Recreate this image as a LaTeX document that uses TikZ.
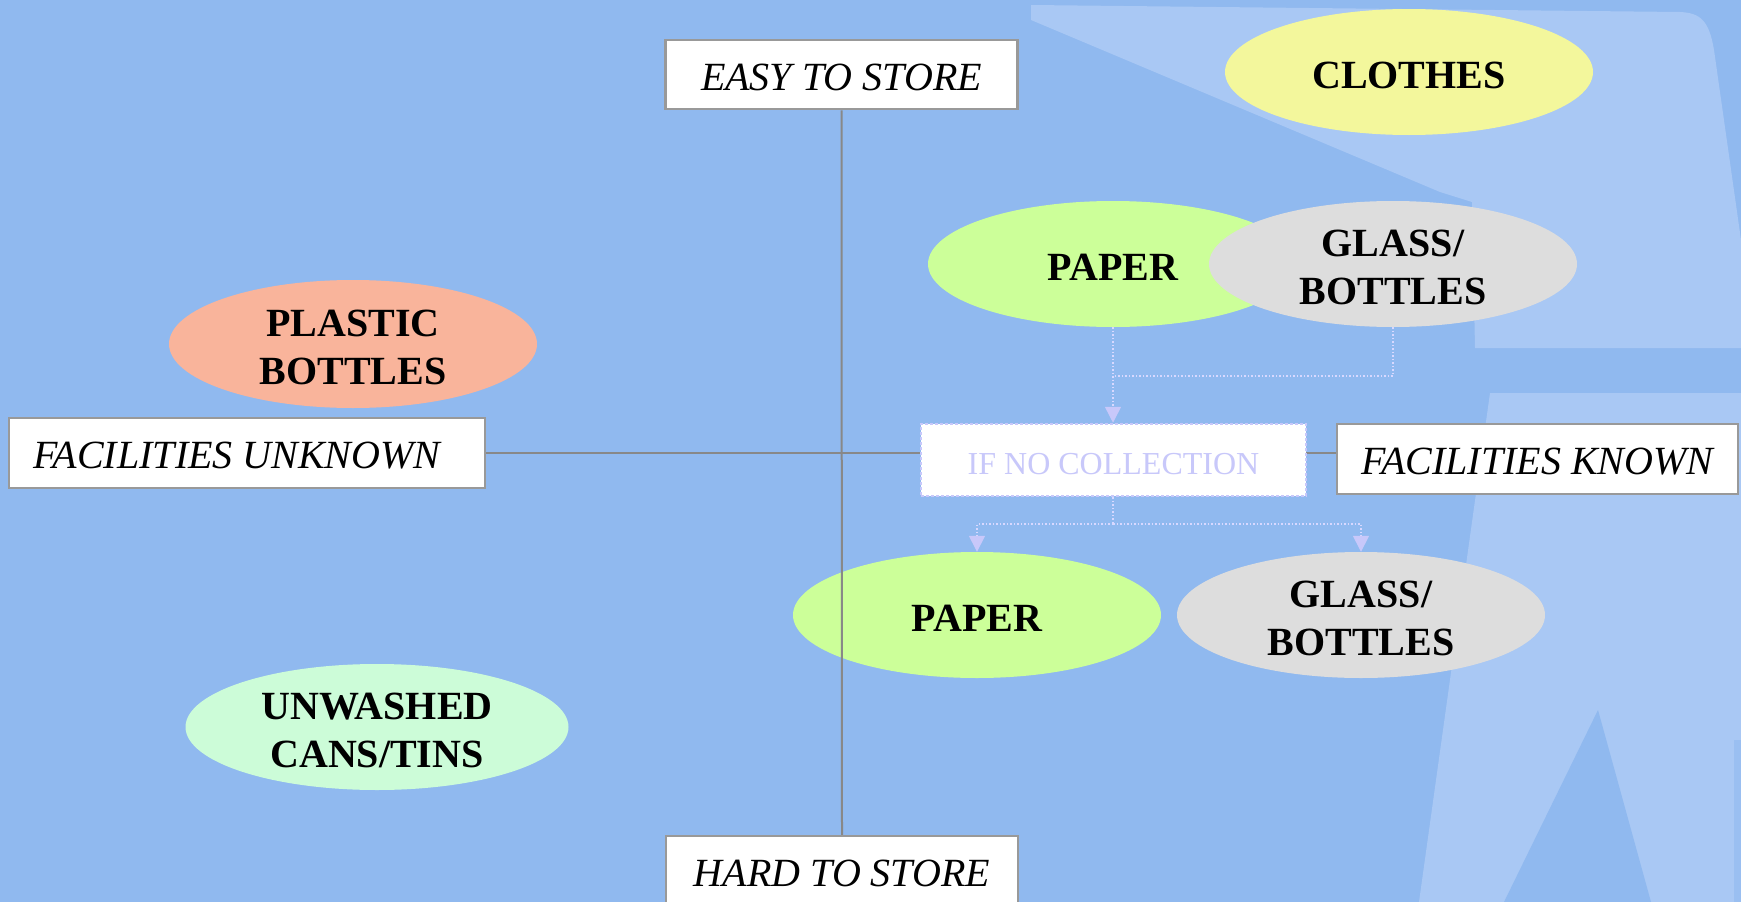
\documentclass[tikz,border=0pt]{standalone}
\usepackage{fontspec}
\setmainfont{Liberation Serif}
\usetikzlibrary{shapes.geometric,arrows.meta}
\definecolor{bgblue}{HTML}{90B9EF}
\definecolor{bglight}{HTML}{A9C8F4}
\definecolor{linegray}{HTML}{888888}
\definecolor{boxgray}{HTML}{999999}
\definecolor{lav}{HTML}{C8C8FA}
\definecolor{lavline}{HTML}{D8D8FF}
\definecolor{clothesc}{HTML}{F3F79C}
\definecolor{paperc}{HTML}{CCFF99}
\definecolor{glassc}{HTML}{DDDDDD}
\definecolor{plasticc}{HTML}{F9B49B}
\definecolor{unwashedc}{HTML}{CCFCD8}
\pgfdeclarelayer{backdrop}
\pgfdeclarelayer{ells}
\pgfdeclarelayer{axes}
\pgfsetlayers{backdrop,ells,axes,main}
\tikzset{
  labbox/.style={draw=boxgray, line width=2.5pt, fill=white, rectangle, inner sep=0pt},
  boxtext/.style={inner sep=0pt, font=\fontsize{40}{48}\selectfont\itshape, text=black},
  ell/.style={ellipse, inner sep=0pt, minimum width=368pt, minimum height=126pt},
  elltext/.style={inner sep=0pt, align=center, font=\fontsize{40}{48}\selectfont\bfseries, text=black},
  axis/.style={draw=linegray, line width=2pt},
  dotc/.style={draw=lavline, line width=1.5pt, dash pattern=on 1.5pt off 2pt},
  arrtip/.style={-{Triangle[width=16pt,length=16pt,color=lav]}},
  ifbox/.style={rectangle, fill=white, draw=lav, line width=2.5pt, dash pattern=on 3pt off 2pt,
    inner sep=0pt},
  iftext/.style={inner sep=0pt, font=\fontsize{32}{38}\selectfont, text=lav}
}
\begin{document}
\begin{tikzpicture}[x=1pt,y=-1pt]
\useasboundingbox (0,0) rectangle (1741,902);
% background
\begin{pgfonlayer}{backdrop}
\fill[bgblue] (0,0) rectangle (1741,902);
\fill[bglight] (1031,5) -- (1031,20) -- (1440,192) -- (1472,202) -- (1475,348) -- (1741,348)
  -- (1741,240) -- (1714,50) .. controls (1709,20) and (1700,13) .. (1680,12) -- cycle;
\fill[bglight] (1490,393) -- (1741,393) -- (1741,902) -- (1419,902) -- cycle;
\fill[bgblue] (1598,710) -- (1651,902) -- (1504,902) -- cycle;
\fill[bgblue!60!bglight] (1734,740) rectangle (1741,902);
\end{pgfonlayer}

% ellipses
\begin{pgfonlayer}{ells}
\node[ell, fill=clothesc] (clothes) at (1409,72) {};
\node[ell, fill=paperc, minimum width=370pt] (paper1) at (1113,264) {};
\node[ell, fill=glassc] (glass1) at (1393,264) {};
\node[ell, fill=plasticc, minimum height=128pt] (plastic) at (353,344) {};
\node[ell, fill=paperc] (paper2) at (977,615) {};
\node[ell, fill=glassc] (glass2) at (1361,615) {};
\node[ell, fill=unwashedc, minimum width=383pt] (unwashed) at (377,727) {};
\end{pgfonlayer}

% label boxes
\node[labbox, minimum width=352pt, minimum height=69pt] (easy) at (841.5,74.5) {};
\node[labbox, minimum width=352pt, minimum height=69pt] (hard) at (842,870.5) {};
\node[labbox, minimum width=476pt, minimum height=70pt] (unk) at (247,453) {};
\node[labbox, minimum width=401pt, minimum height=70pt] (known) at (1537.5,459) {};
\node[ifbox, minimum width=385pt, minimum height=72pt] (ifno) at (1113.5,460) {};

% axes
\begin{pgfonlayer}{axes}
\draw[axis] (easy.south) -- (hard.north);
\draw[axis] (unk.east) -- (unk.east -| known.west);
\end{pgfonlayer}

% texts
\node[elltext] (clothes-t) at ([yshift=-3.5pt]clothes.center) {CLOTHES};
\node[elltext] (paper1-t) at ([yshift=-3.5pt]paper1.center) {PAPER};
\node[elltext] (glass1-t) at ([yshift=-3.5pt]glass1.center) {GLASS/\\BOTTLES};
\node[elltext] (plastic-t) at ([yshift=-3.5pt]plastic.center) {PLASTIC\\BOTTLES};
\node[elltext] (paper2-t) at ([yshift=-3.5pt]paper2.center) {PAPER};
\node[elltext] (glass2-t) at ([yshift=-3.5pt]glass2.center) {GLASS/\\BOTTLES};
\node[elltext] (unwashed-t) at ([yshift=-3.5pt]unwashed.center) {UNWASHED\\CANS/TINS};
\node[boxtext] (easy-t) at ([yshift=-3pt]easy.center) {EASY TO STORE};
\node[boxtext] (hard-t) at ([yshift=-3pt]hard.center) {HARD TO STORE};
\node[boxtext] (unk-t) at ([xshift=-10pt,yshift=-3pt]unk.center) {FACILITIES UNKNOWN};
\node[boxtext] (known-t) at ([yshift=-3pt]known.center) {FACILITIES KNOWN};
\node[iftext] (ifno-t) at ([yshift=-4pt]ifno.center) {IF NO COLLECTION};

% dotted connectors
\coordinate (j1) at (1113,376);
\coordinate (j2) at (1113,524);
\draw[dotc] (paper1.south) -- (j1);
\draw[dotc] (glass1.south) |- (j1);
\draw[dotc, arrtip] (j1) -- (ifno.north -| j1);
\draw[dotc] (ifno.south -| j2) -- (j2);
\draw[dotc, arrtip] (j2) -| (paper2.north);
\draw[dotc, arrtip] (j2) -| (glass2.north);
\end{tikzpicture}
\end{document}
